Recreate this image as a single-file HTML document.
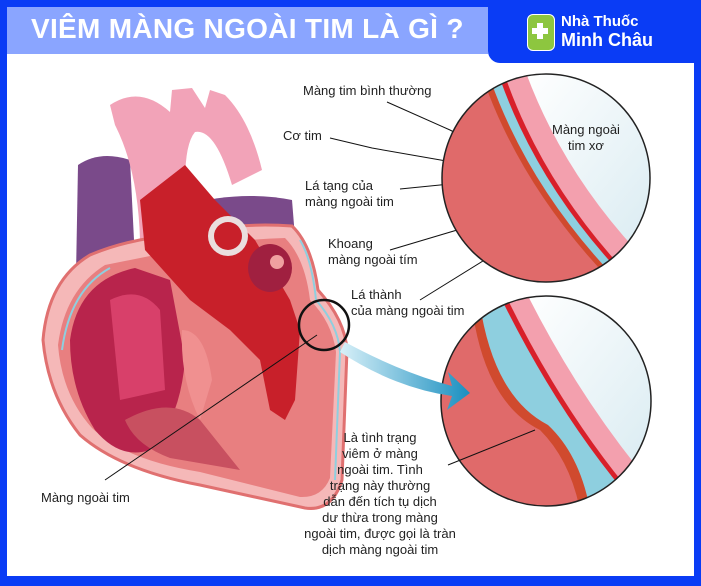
<!DOCTYPE html>
<html><head><meta charset="utf-8"><style>
body{margin:0;width:701px;height:586px;overflow:hidden;background:#0a3cf5;font-family:"Liberation Sans","DejaVu Sans",sans-serif}
.t{position:absolute;font-size:13px;color:#222;line-height:16px;white-space:nowrap}
</style></head><body>
<div style="position:absolute;left:7px;top:7px;width:687px;height:569px;background:#fff"></div>
<div style="position:absolute;left:7px;top:7px;width:481px;height:47px;background:#8aa5ff"></div>
<div style="position:absolute;left:488px;top:7px;width:206px;height:56px;background:#0a3cf5;border-bottom-left-radius:12px"></div>
<div style="position:absolute;left:31px;top:13px;font-size:28px;font-weight:bold;color:#fff;letter-spacing:0.3px">VIÊM MÀNG NGOÀI TIM LÀ GÌ ?</div>
<div style="position:absolute;left:527px;top:14px;width:26px;height:35px;background:#8dc63f;border-radius:6px;border:1px solid #fff"></div>
<div style="position:absolute;left:532px;top:28px;width:16px;height:6px;background:#fff"></div>
<div style="position:absolute;left:537px;top:23px;width:6px;height:16px;background:#fff"></div>
<div style="position:absolute;left:561px;top:13px;color:#fff;font-size:15px;line-height:18px;font-weight:bold">Nhà Thuốc<br><span style="font-size:18px">Minh Châu</span></div>
<svg style="position:absolute;left:0;top:0" width="701" height="586">
<defs>
<linearGradient id="w" x1="0" y1="0" x2="1" y2="1"><stop offset="0" stop-color="#fff"/><stop offset="1" stop-color="#cfe6ee"/></linearGradient>
<linearGradient id="ar" x1="0" y1="0" x2="1" y2="0"><stop offset="0" stop-color="#d8f0f8"/><stop offset="1" stop-color="#1a8fc0"/></linearGradient>
<clipPath id="c1"><circle cx="546" cy="178" r="104"/></clipPath>
<clipPath id="c2"><circle cx="546" cy="401" r="105"/></clipPath>
</defs>
<!-- heart -->
<path d="M75 330 L78 165 Q100 150 130 160 L135 260 Z" fill="#7a4a8a"/>
<path d="M185 205 Q240 190 292 200 L296 250 L190 250 Z" fill="#7a4a8a"/>
<path d="M110 105 Q140 85 170 112 L172 90 L192 88 L205 108 L210 90 L225 95 Q250 120 262 170 L232 185 Q215 128 195 132 Q180 150 188 225 L140 240 Q138 170 115 125 Z" fill="#f2a3b8"/>
<path d="M43 340 Q48 280 90 255 Q130 238 180 235 Q235 222 292 226 Q312 245 318 290 Q345 320 347 350 L342 480 Q332 512 305 508 L200 485 Q120 470 80 435 Q48 395 43 340 Z" fill="#f5b8b8" stroke="#e07070" stroke-width="3"/>
<path d="M58 345 Q65 290 105 265 L170 252 Q220 240 285 238 Q305 258 310 300 Q332 322 336 352 L330 478 Q322 498 300 497 L200 472 Q125 460 92 428 Q62 395 58 345 Z" fill="#e87f80"/>
<path d="M70 340 Q78 280 135 268 L170 280 L185 360 Q180 420 150 450 Q120 460 95 430 Q70 390 70 340 Z" fill="#b8244c"/>
<path d="M110 300 Q140 285 160 310 L165 390 L120 400 Z" fill="#d8406a"/>
<path d="M140 200 L185 165 L215 200 L255 240 L290 300 L300 330 L295 400 L285 420 L270 410 L260 360 L230 330 L190 300 L145 250 Z" fill="#c8202a"/>
<circle cx="228" cy="236" r="20" fill="#eadede"/><circle cx="228" cy="236" r="14" fill="#c8202a"/>
<ellipse cx="270" cy="268" rx="22" ry="24" fill="#a02040"/><circle cx="277" cy="262" r="7" fill="#f0a0a0"/>
<path d="M182 330 Q205 330 212 380 L200 420 Q180 380 182 330 Z" fill="#f09090"/>
<path d="M125 420 Q170 395 200 420 L240 470 L170 458 Q135 445 125 420 Z" fill="#c85060"/>
<path d="M62 350 Q70 290 110 268" stroke="#8ecfdf" stroke-width="2" fill="none"/>
<path d="M300 240 Q312 260 316 300 Q338 325 340 352 L335 480" stroke="#8ecfdf" stroke-width="2" fill="none"/>
<!-- leader lines -->
<g stroke="#111" stroke-width="1" fill="none">
<circle cx="324" cy="325" r="25" stroke-width="2.5"/>
<path d="M317 335 L105 480"/>
<path d="M387 102 L450 130 L494 153"/>
<path d="M330 138 L372 148 L452 162"/>
<path d="M400 189 L530 176"/>
<path d="M390 250 L531 208"/>
<path d="M420 300 L562 212"/>
</g>
<!-- circle 1 -->
<g clip-path="url(#c1)">
<rect x="440" y="70" width="215" height="220" fill="#e06a6a"/>
<path d="M480 70 Q520 190 620 290 L700 290 L700 70 Z" fill="#d04a2e"/>
<path d="M487 70 Q527 190 627 290 L700 290 L700 70 Z" fill="#8ecfdf"/>
<path d="M497 70 Q537 190 637 290 L700 290 L700 70 Z" fill="#d8202a"/>
<path d="M503 70 Q543 190 643 290 L700 290 L700 70 Z" fill="#f3a0ae"/>
<path d="M525 70 Q565 180 655 270 L700 290 L700 70 Z" fill="url(#w)"/>
</g>
<circle cx="546" cy="178" r="104" fill="none" stroke="#222" stroke-width="1.5"/>
<!-- circle 2 -->
<g clip-path="url(#c2)">
<rect x="440" y="290" width="215" height="220" fill="#e06a6a"/>
<path d="M470 290 Q480 400 540 430 Q570 460 580 510 L700 510 L700 290 Z" fill="#d04a2e"/>
<path d="M478 290 Q490 395 548 425 Q580 455 590 510 L700 510 L700 290 Z" fill="#8ecfdf"/>
<path d="M497 290 Q560 420 640 510 L700 510 L700 290 Z" fill="#d8202a"/>
<path d="M503 290 Q566 420 646 510 L700 510 L700 290 Z" fill="#f3a0ae"/>
<path d="M525 290 Q585 410 665 500 L700 510 L700 290 Z" fill="url(#w)"/>
</g>
<circle cx="546" cy="401" r="105" fill="none" stroke="#222" stroke-width="1.5"/>
<path d="M345 342 Q400 372 452 386 L448 372 L470 393 L447 410 L452 396 Q395 388 340 352 Z" fill="url(#ar)"/>
<path d="M448 465 L535 430" stroke="#111" fill="none"/>
</svg>
<div class="t" style="left:303px;top:83px">Màng tim bình thường</div>
<div class="t" style="left:283px;top:128px">Cơ tim</div>
<div class="t" style="left:305px;top:178px">Lá tạng của<br>màng ngoài tim</div>
<div class="t" style="left:328px;top:236px">Khoang<br>màng ngoài tím</div>
<div class="t" style="left:351px;top:287px">Lá thành<br>của màng ngoài tim</div>
<div class="t" style="left:552px;top:122px;text-align:center">Màng ngoài<br>tim xơ</div>
<div class="t" style="left:41px;top:490px">Màng ngoài tim</div>
<div class="t" style="left:300px;top:430px;width:160px;text-align:center">Là tình trạng<br>viêm ở màng<br>ngoài tim. Tình<br>trạng này thường<br>dẫn đến tích tụ dịch<br>dư thừa trong màng<br>ngoài tim, được gọi là tràn<br>dịch màng ngoài tim</div>
</body></html>
